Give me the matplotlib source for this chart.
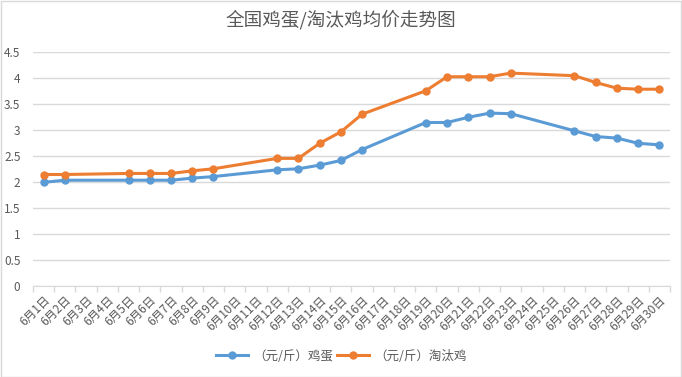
import matplotlib
matplotlib.use("Agg")
import matplotlib.pyplot as plt
import numpy as np

plt.rcParams['font.family'] = ['Noto Sans CJK SC', 'DejaVu Sans']

categories = [f"6月{d}日" for d in range(1, 31)]
days = [1, 2, 5, 6, 7, 8, 9, 12, 13, 14, 15, 16, 19, 20, 21, 22, 23, 26, 27, 28, 29, 30]
egg = [2.00, 2.04, 2.04, 2.04, 2.04, 2.08, 2.11, 2.24, 2.26, 2.33, 2.42, 2.63,
       3.15, 3.15, 3.25, 3.33, 3.32, 2.99, 2.88, 2.85, 2.75, 2.72]
hen = [2.15, 2.15, 2.17, 2.17, 2.17, 2.22, 2.26, 2.46, 2.46, 2.75, 2.97, 3.31,
       3.76, 4.03, 4.03, 4.03, 4.10, 4.05, 3.92, 3.81, 3.79, 3.79]
series_names = ["（元/斤）鸡蛋", "（元/斤）淘汰鸡"]
yticks = [0, 0.5, 1, 1.5, 2, 2.5, 3, 3.5, 4, 4.5]
ytick_labels = ["0", "0.5", "1", "1.5", "2", "2.5", "3", "3.5", "4", "4.5"]

fig = plt.figure(figsize=(6.82, 3.77), dpi=100)
fig.patch.set_facecolor('white')
ax = fig.add_axes([33/682, (377-286.3)/377, (670-33)/682, (286.3-52.3)/377])

x = [d - 1 for d in days]
ax.plot(x, egg, color='#5B9BD5', lw=2.2, marker='o', ms=5, label=series_names[0], zorder=3)
ax.plot(x, hen, color='#ED7D31', lw=2.2, marker='o', ms=5, label=series_names[1], zorder=3)

ax.set_xlim(-0.5, 29.5)
ax.set_ylim(0, 4.5)
ax.set_yticks(yticks)
ax.set_yticklabels(ytick_labels)
ax.yaxis.grid(True, color='#d9d9d9', lw=1)
ax.set_axisbelow(True)
ax.tick_params(axis='y', length=0, labelsize=8.5, labelcolor='#595959', pad=9)

ax.set_xticks(range(30))
ax.set_xticklabels(categories, rotation=45, ha='right', rotation_mode='anchor')
ax.tick_params(axis='x', which='major', length=0, labelsize=8.5, labelcolor='#595959', pad=5)
ax.set_xticks(np.arange(-0.5, 30, 1), minor=True)
ax.tick_params(axis='x', which='minor', length=4, color='#d9d9d9', width=1)

for s in ['top', 'right', 'left']:
    ax.spines[s].set_visible(False)
ax.spines['bottom'].set_color('#d9d9d9')

fig.suptitle("全国鸡蛋/淘汰鸡均价走势图", y=0.973, fontsize=13.4, color='#595959')

fig.legend(loc='center', bbox_to_anchor=(0.5, (377-356)/377), ncol=2, frameon=False,
           fontsize=9, labelcolor='#595959', handlelength=2.6, columnspacing=0.3, handletextpad=0.4)

border = plt.Rectangle((0.5/682, 0.5/377), 680/682, 375.5/377, transform=fig.transFigure,
                       fill=False, edgecolor='#d9d9d9', lw=1)
fig.patches.append(border)

fig.savefig("out.png", dpi=100, facecolor='white')
